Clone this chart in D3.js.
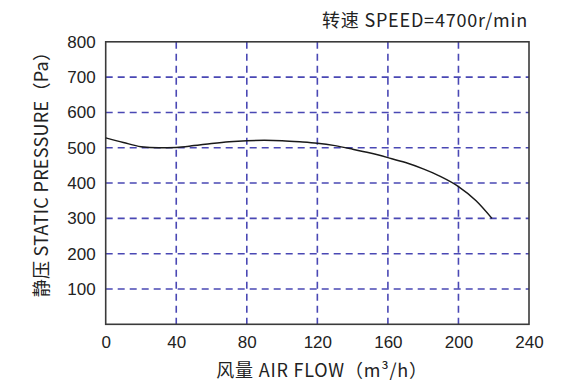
<!DOCTYPE html>
<html>
<head>
<meta charset="utf-8">
<script src="https://cdn.jsdelivr.net/npm/d3@7"></script>
<style>
  body { margin: 0; background: #ffffff; }
  svg { display: block; }
</style>
</head>
<body>
<div id="chart"></div>
<script>
// air flow (m3/h) and static pressure (Pa)
var flow = [0, 10, 20, 30, 40, 50, 60, 70, 80, 90, 100, 110, 120, 130, 140, 150, 160, 170, 180, 190, 200, 210, 219]
var pressure = [528, 515, 503, 500, 501, 506, 512, 517, 520, 521, 520, 517, 513, 506, 496, 485, 472, 458, 440, 418, 390, 350, 300]

var xTicks = [0, 40, 80, 120, 160, 200, 240]
var yTicks = [100, 200, 300, 400, 500, 600, 700, 800]

var speedText = "转速 SPEED=4700r/min"
var xTitle = "风量 AIR FLOW（m³/h）"
var yTitle = "静压 STATIC PRESSURE（Pa）"

var width = 580
var height = 390
// plot box edges (window.top is read-only, so other names)
var plotL = 105.7, plotR = 529, plotT = 41.8, plotB = 324.3

var svg = d3.select("#chart")
	.append("svg")
	.attr("width", width)
	.attr("height", height)

var x = d3.scaleLinear().domain([0, 240]).range([plotL, plotR])
var y = d3.scaleLinear().domain([0, 800]).range([plotB, plotT])

var gridColor = "#4a48b4"
var tickFont = '"Liberation Sans Narrow", "Liberation Sans", sans-serif'
var titleFont = '"Noto Sans CJK SC", "Noto Sans", sans-serif'

//dashed grid lines, vertical and horizontal
svg.append("g")
	.selectAll("line")
	.data(xTicks.slice(1, -1))
	.enter()
	.append("line")
	.attr("x1", function(d) { return x(d) })
	.attr("x2", function(d) { return x(d) })
	.attr("y1", plotT)
	.attr("y2", plotB)
	.attr("stroke", gridColor)
	.attr("stroke-width", 1.6)
	.attr("stroke-dasharray", "7,5")

svg.append("g")
	.selectAll("line")
	.data(yTicks.slice(0, -1))
	.enter()
	.append("line")
	.attr("x1", plotL)
	.attr("x2", plotR)
	.attr("y1", function(d) { return y(d) })
	.attr("y2", function(d) { return y(d) })
	.attr("stroke", gridColor)
	.attr("stroke-width", 1.6)
	.attr("stroke-dasharray", "7,5")

//frame
svg.append("rect")
	.attr("x", plotL)
	.attr("y", plotT)
	.attr("width", plotR - plotL)
	.attr("height", plotB - plotT)
	.attr("fill", "none")
	.attr("stroke", "#3a3a3a")
	.attr("stroke-width", 1.6)

//axes, only used for the labels
var xAxis = svg.append("g")
	.attr("transform", "translate(0," + plotB + ")")
	.call(d3.axisBottom(x).tickValues(xTicks).tickSize(0).tickPadding(12))
xAxis.select(".domain").remove()
xAxis.selectAll("text")
	.style("font-family", tickFont)
	.style("font-size", "17px")
	.attr("fill", "#222")

var yAxis = svg.append("g")
	.attr("transform", "translate(" + plotL + ",0)")
	.call(d3.axisLeft(y).tickValues(yTicks).tickSize(0).tickPadding(10))
yAxis.select(".domain").remove()
yAxis.selectAll("text")
	.style("font-family", tickFont)
	.style("font-size", "17px")
	.attr("fill", "#222")

//the curve
var line = d3.line()
	.x(function(d) { return x(d[0]) })
	.y(function(d) { return y(d[1]) })
	.curve(d3.curveMonotoneX)

svg.append("path")
	.datum(flow.map(function(f, i) { return [f, pressure[i]] }))
	.attr("d", line)
	.attr("fill", "none")
	.attr("stroke", "#1a1a1a")
	.attr("stroke-width", 1.5)

//titles
svg.append("text")
	.attr("x", 528)
	.attr("y", 27)
	.attr("text-anchor", "end")
	.style("font-family", titleFont)
	.style("font-size", "18px")
	.style("letter-spacing", "0.8px")
	.attr("fill", "#222")
	.text(speedText)

svg.append("text")
	.attr("x", 322)
	.attr("y", 377)
	.attr("text-anchor", "middle")
	.style("font-family", titleFont)
	.style("font-size", "18px")
	.style("letter-spacing", "0.8px")
	.attr("fill", "#222")
	.text(xTitle)

svg.append("text")
	.attr("transform", "translate(48,170) rotate(-90)")
	.attr("text-anchor", "middle")
	.style("font-family", titleFont)
	.style("font-size", "18px")
	.style("letter-spacing", "0.3px")
	.attr("fill", "#222")
	.text(yTitle)
</script>
</body>
</html>
